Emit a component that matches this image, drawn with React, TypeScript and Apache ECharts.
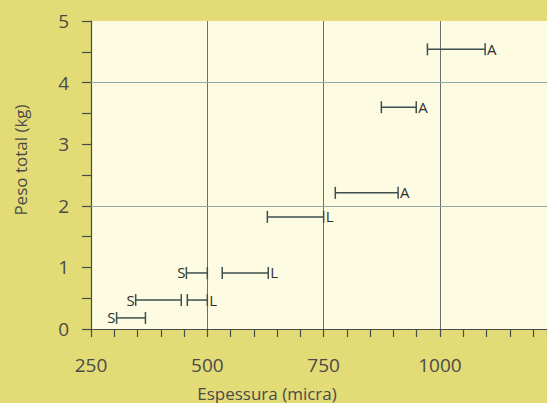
import React, { useEffect, useRef } from "react";
import * as echarts from "echarts";

// Ranges: thickness (micra) low/high at a total weight (kg)
const lows = [973, 874, 775, 629, 455, 532, 346, 457, 305];
const highs = [1097, 949, 910, 750, 500, 631, 444, 500, 367];
const weights = [4.54, 3.6, 2.21, 1.82, 0.91, 0.91, 0.47, 0.47, 0.18];
const labels = ["A", "A", "A", "L", "S", "L", "S", "L", "S"];

const xTicks = [250, 500, 750, 1000];
const yGridValues = [2, 4];

const FONT = "'Open Sans', 'Noto Sans', sans-serif";
const INK = "#3d4f4d";

export default function App() {
  const ref = useRef<HTMLDivElement>(null);
  useEffect(() => {
    if (!ref.current) return;
    const chart = echarts.init(ref.current, undefined, { renderer: "svg" });
    const data = lows.map((lo, i) => [lo, highs[i], weights[i]]);
    chart.setOption({
      animation: false,
      backgroundColor: "#e3dc76",
      grid: {
        left: 91,
        right: 0,
        top: 21,
        bottom: 74,
        show: true,
        backgroundColor: "#fdfbe1",
        borderWidth: 0,
      },
      xAxis: {
        type: "value",
        min: 250,
        max: 1230,
        interval: 250,
        axisLine: { show: true, lineStyle: { color: "#4a4a4a", width: 1.2 } },
        axisTick: { show: true, inside: false, length: 8, lineStyle: { color: "#4a4a4a", width: 1.2 } },
        minorTick: { show: true, splitNumber: 5, length: 8, lineStyle: { color: "#4a4a4a", width: 1.2 } },
        axisLabel: {
          margin: 26,
          color: "#4a4a4a",
          fontSize: 19,
          fontFamily: FONT,
          showMaxLabel: false,
          formatter: (v: number) => (xTicks.indexOf(v) >= 0 ? String(v) : ""),
        },
        splitLine: { show: true, lineStyle: { color: "#6e6e6e", width: 1 } },
      },
      yAxis: {
        type: "value",
        min: 0,
        max: 5,
        interval: 1,
        axisLine: { show: true, lineStyle: { color: "#4a4a4a", width: 1.2 } },
        axisTick: { show: true, inside: false, length: 9, lineStyle: { color: "#4a4a4a", width: 1.2 } },
        minorTick: { show: true, splitNumber: 2, length: 9, lineStyle: { color: "#4a4a4a", width: 1.2 } },
        axisLabel: { margin: 22, color: "#4a4a4a", fontSize: 19, fontFamily: FONT },
        splitLine: { show: false },
      },
      graphic: [
        {
          type: "text",
          x: 267,
          y: 393,
          style: {
            text: "Espessura (micra)",
            fill: "#4a4a4a",
            fontSize: 17,
            fontFamily: FONT,
            align: "center",
            verticalAlign: "middle",
          },
        },
        {
          type: "text",
          x: 20,
          y: 160,
          rotation: Math.PI / 2,
          style: {
            text: "Peso total (kg)",
            fill: "#4a4a4a",
            fontSize: 17,
            fontFamily: FONT,
            align: "center",
            verticalAlign: "middle",
          },
        },
      ],
      series: [
        {
          type: "line",
          data: [],
          silent: true,
          markLine: {
            silent: true,
            symbol: "none",
            label: { show: false },
            lineStyle: { color: "#8fa9a6", width: 1, type: "solid" },
            data: yGridValues.map((v) => ({ yAxis: v })),
          },
        },
        {
          type: "custom",
          data,
          encode: { x: [0, 1], y: 2 },
          clip: false,
          renderItem: (params: any, api: any) => {
            const i = params.dataIndex;
            const a = api.coord([api.value(0), api.value(2)]);
            const b = api.coord([api.value(1), api.value(2)]);
            const h = 6;
            const lab = labels[i];
            const left = lab === "S";
            const lineStyle = { stroke: INK, lineWidth: 1.5 };
            return {
              type: "group",
              children: [
                { type: "line", shape: { x1: a[0], y1: a[1], x2: b[0], y2: b[1] }, style: lineStyle },
                { type: "line", shape: { x1: a[0], y1: a[1] - h, x2: a[0], y2: a[1] + h }, style: lineStyle },
                { type: "line", shape: { x1: b[0], y1: b[1] - h, x2: b[0], y2: b[1] + h }, style: lineStyle },
                {
                  type: "text",
                  style: {
                    text: lab,
                    x: left ? a[0] - 1 : b[0] + 2,
                    y: a[1] - 0.5,
                    fill: "#2f2f2f",
                    fontSize: 15,
                    fontFamily: FONT,
                    align: left ? "right" : "left",
                    verticalAlign: "middle",
                  },
                },
              ],
            };
          },
        },
      ],
    });
    return () => chart.dispose();
  }, []);
  return (
    <div
      ref={ref}
      style={{ position: "fixed", left: 0, top: 0, width: 547, height: 403 }}
    />
  );
}
